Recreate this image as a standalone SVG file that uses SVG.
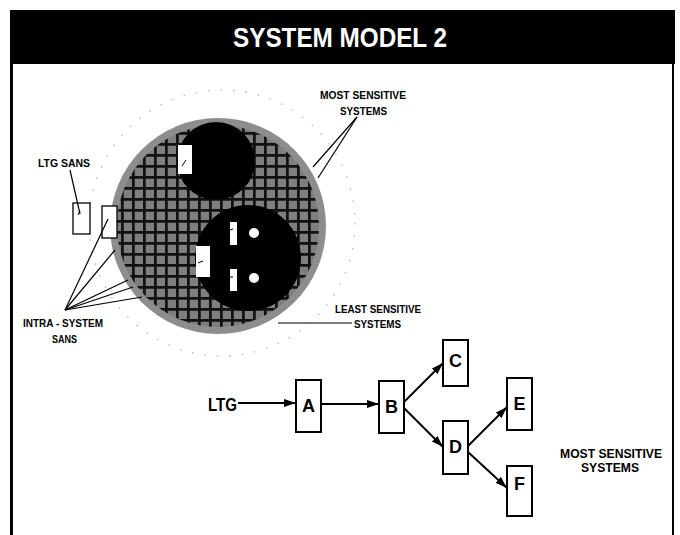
<svg xmlns="http://www.w3.org/2000/svg" width="680" height="535" viewBox="0 0 680 535">
<style>
.lbl{font-family:"Liberation Sans",Arial,sans-serif;font-weight:bold;fill:#000}
.big{font-size:18px}
.box{fill:#fff;stroke:#000;stroke-width:2}
.lead{stroke:#000;stroke-width:1.2;fill:none}
.arr{stroke:#000;stroke-width:2;fill:none;marker-end:url(#ah)}
.win{fill:#fff}
.tick{stroke:#000;stroke-width:1}
</style>
<defs>
<marker id="ah" viewBox="0 0 12 8" refX="12" refY="4" markerWidth="12" markerHeight="8" markerUnits="userSpaceOnUse" orient="auto">
<path d="M0 0L12 4L0 8Z" fill="#000"/>
</marker>
<pattern id="mesh" patternUnits="userSpaceOnUse" width="11" height="11">
<rect width="11" height="11" fill="#7e7e7e"/>
<path d="M0 0H11M0 0V11" stroke="#111" stroke-width="5.5"/>
</pattern>
<clipPath id="disc"><circle cx="218" cy="226" r="108"/></clipPath>
</defs>
<rect width="680" height="535" fill="#fff"/>
<g id="frame">
<rect x="10" y="10" width="665" height="54" fill="#000"/>
<line x1="11.5" y1="10" x2="11.5" y2="535" stroke="#000" stroke-width="3"/>
<line x1="673" y1="10" x2="673" y2="535" stroke="#000" stroke-width="2"/>
<text x="340" y="47" font-family="'Liberation Sans',Arial,sans-serif" font-weight="bold" font-size="27" fill="#fff" text-anchor="middle" textLength="214" lengthAdjust="spacingAndGlyphs">SYSTEM MODEL 2</text>
</g>
<g id="model">
<circle cx="222" cy="223" r="133" fill="none" stroke="#b0b0b0" stroke-width="1.2" stroke-dasharray="1.5 11"/>
<circle cx="218" cy="226" r="108" fill="#8d8d8d"/>
<circle cx="218" cy="226" r="101" fill="url(#mesh)"/>
<g clip-path="url(#disc)">
<circle cx="216" cy="161" r="39" fill="#000"/>
<circle cx="248" cy="258" r="53" fill="#000"/>
</g>
<rect class="win" x="178" y="145" width="14" height="29"/>
<line class="tick" x1="182" y1="166" x2="186" y2="160"/>
<rect class="win" x="196" y="246" width="14" height="31"/>
<line class="tick" x1="198" y1="263" x2="203" y2="261"/>
<rect class="win" x="230" y="222" width="7" height="23"/>
<line class="tick" x1="230" y1="230" x2="233" y2="229"/>
<rect class="win" x="230" y="269" width="7" height="22"/>
<line class="tick" x1="230" y1="277" x2="233" y2="277"/>
<circle cx="254" cy="233" r="5" fill="#fff"/>
<circle cx="254" cy="278" r="5" fill="#fff"/>
</g>
<g id="ltg-sans">
<rect x="73" y="203" width="17" height="31" fill="#fff" stroke="#000" stroke-width="1.3"/>
<line class="tick" x1="78" y1="215" x2="80" y2="211"/>
<text class="lbl" font-size="10.5" x="38" y="167" textLength="52" lengthAdjust="spacingAndGlyphs">LTG SANS</text>
</g>
<g id="intra-sans">
<rect x="102" y="206" width="15" height="32" fill="#fff" stroke="#000" stroke-width="1.3"/>
<text class="lbl" font-size="10.5" x="23" y="327" textLength="80" lengthAdjust="spacingAndGlyphs">INTRA - SYSTEM</text>
<text class="lbl" font-size="10.5" x="52" y="343" textLength="25" lengthAdjust="spacingAndGlyphs">SANS</text>
</g>
<g id="most-top">
<text class="lbl" font-size="10" x="320" y="99" textLength="86" lengthAdjust="spacingAndGlyphs">MOST SENSITIVE</text>
<text class="lbl" font-size="10" x="340" y="115" textLength="47" lengthAdjust="spacingAndGlyphs">SYSTEMS</text>
</g>
<g id="least">
<text class="lbl" font-size="10.5" x="335" y="313" textLength="86" lengthAdjust="spacingAndGlyphs">LEAST SENSITIVE</text>
<text class="lbl" font-size="10.5" x="354" y="328" textLength="47" lengthAdjust="spacingAndGlyphs">SYSTEMS</text>
</g>
<g id="leaders">
<line class="lead" x1="70" y1="170" x2="80" y2="214"/>
<line class="lead" x1="65" y1="310" x2="108" y2="219"/>
<line class="lead" x1="65" y1="310" x2="115" y2="250"/>
<line class="lead" x1="65" y1="310" x2="128" y2="280"/>
<line class="lead" x1="65" y1="310" x2="133" y2="287"/>
<line class="lead" x1="65" y1="310" x2="142" y2="297"/>
<line class="lead" x1="357" y1="117" x2="313" y2="167"/>
<line class="lead" x1="357" y1="117" x2="318" y2="178"/>
<line class="lead" x1="278" y1="323" x2="352" y2="323"/>
</g>
<g id="ltg"><text class="lbl big" x="208" y="411" textLength="29" lengthAdjust="spacingAndGlyphs">LTG</text></g>
<g id="node-a"><rect class="box" x="296" y="380" width="25" height="52"/><text class="lbl big" x="308.5" y="412" text-anchor="middle">A</text></g>
<g id="node-b"><rect class="box" x="379" y="381" width="25" height="52"/><text class="lbl big" x="391.5" y="413" text-anchor="middle">B</text></g>
<g id="node-c"><rect class="box" x="443" y="340" width="25" height="46"/><text class="lbl big" x="455.5" y="367" text-anchor="middle">C</text></g>
<g id="node-d"><rect class="box" x="443" y="421" width="25" height="53"/><text class="lbl big" x="455.5" y="453" text-anchor="middle">D</text></g>
<g id="node-e"><rect class="box" x="507" y="378" width="25" height="52"/><text class="lbl big" x="519.5" y="410" text-anchor="middle">E</text></g>
<g id="node-f"><rect class="box" x="507" y="466" width="25" height="50"/><text class="lbl big" x="519.5" y="490" text-anchor="middle">F</text></g>
<g id="most-right">
<text class="lbl" font-size="12" x="560" y="458" textLength="102" lengthAdjust="spacingAndGlyphs">MOST SENSITIVE</text>
<text class="lbl" font-size="12" x="581" y="472" textLength="58" lengthAdjust="spacingAndGlyphs">SYSTEMS</text>
</g>
<g id="connectors">
<line class="arr" x1="238" y1="403" x2="296" y2="403"/>
<line class="arr" x1="321" y1="404" x2="379" y2="404"/>
<line class="arr" x1="404" y1="402" x2="443" y2="363"/>
<line class="arr" x1="404" y1="408" x2="443" y2="447"/>
<line class="arr" x1="468" y1="446" x2="507" y2="407"/>
<line class="arr" x1="468" y1="452" x2="507" y2="488"/>
</g>
</svg>
